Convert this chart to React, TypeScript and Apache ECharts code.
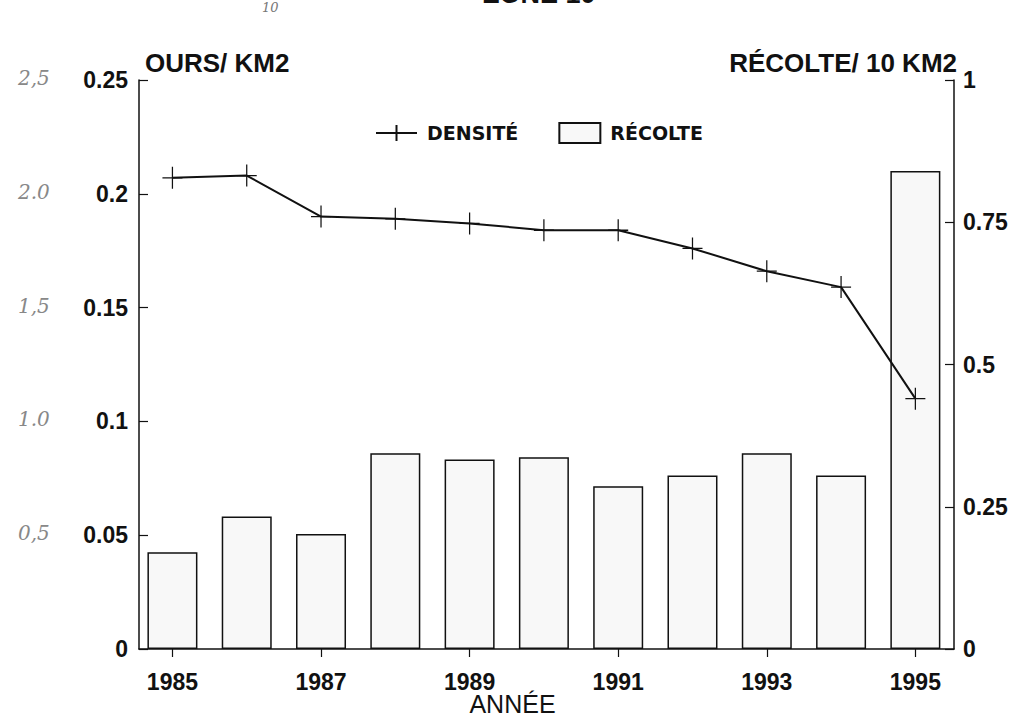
import React, { useEffect, useRef } from "react";
import * as echarts from "echarts";

const years = [1985, 1986, 1987, 1988, 1989, 1990, 1991, 1992, 1993, 1994, 1995];
const labelYears = [1985, 1987, 1989, 1991, 1993, 1995];
const densite = [0.207, 0.208, 0.19, 0.189, 0.187, 0.184, 0.184, 0.176, 0.166, 0.159, 0.11];
const recolte = [0.17, 0.233, 0.202, 0.344, 0.333, 0.337, 0.286, 0.305, 0.344, 0.305, 0.84];
const leftTicks = [0, 0.05, 0.1, 0.15, 0.2, 0.25];
const rightTicks = [0, 0.25, 0.5, 0.75, 1];
const handNotes = ["0,5", "1.0", "1,5", "2.0", "2,5"];
const handValues = [0.05, 0.1, 0.15, 0.2, 0.25];

const FONT = "Liberation Sans, Arial, sans-serif";

export default function App() {
  const ref = useRef<HTMLDivElement>(null);
  useEffect(() => {
    if (!ref.current) return;
    const chart = echarts.init(ref.current, undefined, { renderer: "svg" });
    const gridTop = 80;
    const gridBottom = 649;
    const yPix = (v: number) => gridBottom - (v / 0.25) * (gridBottom - gridTop);
    chart.setOption({
      animation: false,
      backgroundColor: "#ffffff",
      textStyle: { fontFamily: FONT },
      grid: { left: 139, right: 70, top: gridTop, bottom: 722 - gridBottom, outerBoundsMode: "none", containLabel: false },
      legend: {
        left: 370,
        top: 117,
        itemWidth: 41,
        itemHeight: 20,
        itemGap: 40,
        textStyle: { fontFamily: "DejaVu Sans, sans-serif", fontWeight: "bold", fontSize: 19, color: "#111", padding: [0, 0, 0, 5] },
        data: [
          { name: "DENSITÉ" },
          { name: "RÉCOLTE", icon: "rect" },
        ],
      },
      xAxis: [
        {
          type: "value",
          min: 1984.55,
          max: 1995.52,
          position: "bottom",
          axisLine: { lineStyle: { color: "#111", width: 1.5 } },
          axisTick: { inside: true, length: 11, customValues: years, lineStyle: { color: "#111", width: 1.2 } },
          axisLabel: { show: false },
          splitLine: { show: false },
        },
        {
          type: "value",
          min: 1984.55,
          max: 1995.52,
          position: "bottom",
          axisLine: { show: false },
          axisTick: { show: true, inside: false, length: 8, customValues: labelYears, lineStyle: { color: "#111", width: 1.2 } },
          axisLabel: {
            customValues: labelYears,
            formatter: (v: number) => String(v),
            margin: 21,
            fontFamily: FONT,
            fontWeight: "bold",
            fontSize: 23,
            color: "#111",
          },
          splitLine: { show: false },
          name: "ANNÉE",
          nameLocation: "middle",
          nameGap: 55,
          nameMoveOverlap: false,
          nameTextStyle: { fontFamily: FONT, fontWeight: "normal", fontSize: 25, color: "#111", verticalAlign: "middle", padding: [0, 68, 0, 0] },
        },
      ],
      yAxis: [
        {
          type: "value",
          min: 0,
          max: 0.25,
          interval: 0.05,
          position: "left",
          axisLine: { show: true, lineStyle: { color: "#111", width: 1.5 } },
          axisTick: { show: true, inside: true, length: 9, lineStyle: { color: "#111", width: 1.2 } },
          axisLabel: {
            margin: 11,
            fontFamily: FONT,
            fontWeight: "bold",
            fontSize: 23,
            color: "#111",
            formatter: (v: number) => (leftTicks.includes(Math.round(v * 100) / 100) ? String(Math.round(v * 100) / 100) : ""),
          },
          splitLine: { show: false },
          name: "OURS/ KM2",
          nameLocation: "end",
          nameGap: 17,
          nameTextStyle: { fontFamily: FONT, fontWeight: "bold", fontSize: 26, color: "#111", align: "left", verticalAlign: "middle", padding: [0, 0, 0, 6] },
        },
        {
          type: "value",
          min: 0,
          max: 1,
          interval: 0.25,
          position: "right",
          axisLine: { show: true, lineStyle: { color: "#111", width: 1.5 } },
          axisTick: { show: true, inside: true, length: 9, lineStyle: { color: "#111", width: 1.2 } },
          axisLabel: {
            margin: 9,
            fontFamily: FONT,
            fontWeight: "bold",
            fontSize: 23,
            color: "#111",
            formatter: (v: number) => (rightTicks.includes(v) ? String(v) : ""),
          },
          splitLine: { show: false },
          name: "RÉCOLTE/ 10 KM2",
          nameLocation: "end",
          nameGap: 17,
          nameTextStyle: { fontFamily: FONT, fontWeight: "bold", fontSize: 26, color: "#111", align: "right", verticalAlign: "middle", padding: [0, -3, 0, 0] },
        },
      ],
      series: [
        {
          name: "RÉCOLTE",
          type: "bar",
          xAxisIndex: 0,
          yAxisIndex: 1,
          barWidth: 50,
          data: years.map((y, i) => [y, recolte[i]]),
          itemStyle: { color: "#f8f8f8", borderColor: "#111", borderWidth: 1.5 },
        },
        {
          name: "DENSITÉ",
          type: "line",
          xAxisIndex: 0,
          yAxisIndex: 0,
          data: years.map((y, i) => [y, densite[i]]),
          symbol: "path://M10,0L10,22M0,11L20,11",
          symbolSize: [20, 22],
          lineStyle: { color: "#111", width: 2 },
          itemStyle: { color: "none", borderColor: "#111", borderWidth: 1.3 },
          z: 5,
        },
      ],
      graphic: [
        {
          type: "text",
          left: 483,
          top: -20,
          style: { text: "ZONE 10", fontFamily: FONT, fontWeight: "bold", fontSize: 27, fill: "#111" },
        },
        {
          type: "text",
          left: 262,
          top: 1,
          style: { text: "10", fontFamily: "DejaVu Serif", fontStyle: "italic", fontSize: 13, fill: "#777" },
        },
        ...handNotes.map((t, i) => ({
          type: "text",
          left: 18,
          top: yPix(handValues[i]) - 12,
          style: { text: t, fontFamily: "DejaVu Serif", fontStyle: "italic", fontSize: 20, fill: "#888" },
        })),
      ],
    });
    return () => chart.dispose();
  }, []);
  return <div ref={ref} style={{ position: "absolute", left: 0, top: 0, width: 1024, height: 722 }} />;
}
